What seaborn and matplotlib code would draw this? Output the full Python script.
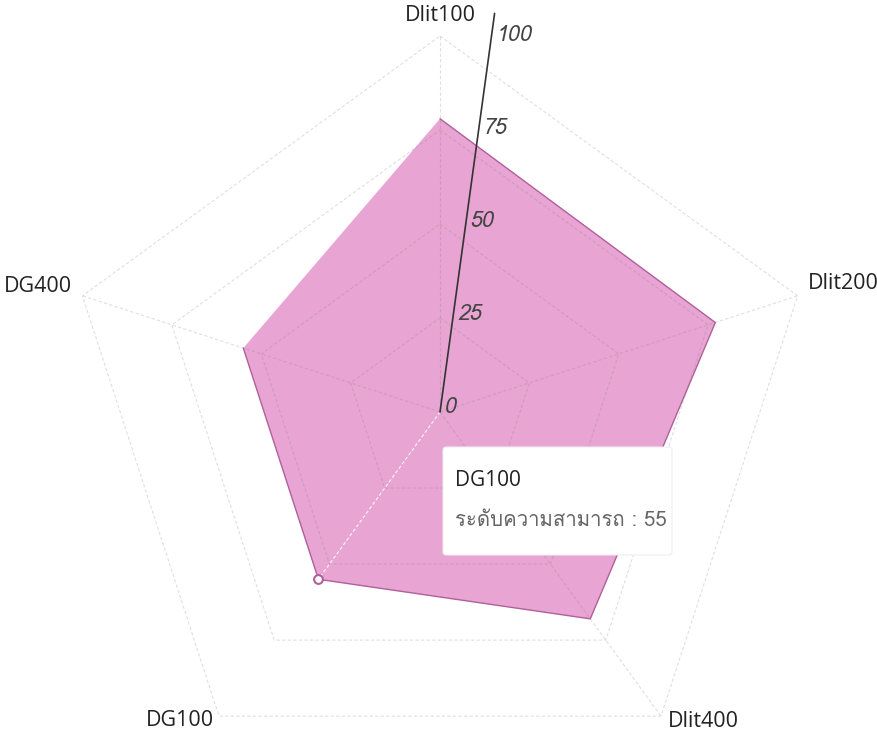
import numpy as np
import pandas as pd
import seaborn as sns
import matplotlib.pyplot as plt
from matplotlib import font_manager
from matplotlib.ft2font import FT2Font
from matplotlib.patches import FancyBboxPatch

# radar chart: skill level per test
labels = ['Dlit100', 'Dlit200', 'Dlit400', 'DG100', 'DG400']
scores = [78, 77, 68, 55, 55]
ticks = [0, 25, 50, 75, 100]
hover_idx = 3
tip_title = 'DG100'
tip_text = 'ระดับความสามารถ : 55'

sns.set_theme(style='white')

# find something that can draw thai
thai_font = None
for f in font_manager.fontManager.ttflist:
    try:
        if FT2Font(f.fname).get_char_index(0x0E23):
            thai_font = f.name
            break
    except Exception:
        pass
base = ['Open Sans', 'DejaVu Sans']
plt.rcParams['font.family'] = ([thai_font] if thai_font else []) + base

df = pd.DataFrame({'label': labels, 'score': scores})
n = len(df)
df['theta'] = np.arange(n) * 2 * np.pi / n
closed = pd.concat([df, df.iloc[:1]], ignore_index=True)

fig = plt.figure(figsize=(8.78, 7.31), dpi=100)
cx, cy, R = 440 / 878, 1 - 412 / 731, 376
ax = fig.add_axes([cx - R / 878, cy - R / 731, 2 * R / 878, 2 * R / 731],
                  projection='polar')
ax.set_theta_zero_location('N')
ax.set_theta_direction(-1)
ax.set_ylim(0, 100)
ax.axis('off')

# data polygon
ax.fill(closed['theta'], closed['score'], color='#e69ccf', alpha=0.92, zorder=1, lw=0)
sns.lineplot(x=closed['theta'], y=closed['score'], sort=False, ax=ax,
             color='#b0609a', lw=1.0, zorder=2)

# pentagon grid + spokes
th = closed['theta']
for lv in ticks[1:]:
    ax.plot(th, [lv] * len(th), color='#808080', alpha=0.25, lw=0.8,
            ls=(0, (3, 2)), zorder=3)
for i, t in enumerate(df['theta']):
    c, a = ('white', 0.9) if i == hover_idx else ('#808080', 0.25)
    ax.plot([t, t], [0, 100], color=c, alpha=a, lw=0.8, ls=(0, (3, 2)), zorder=3)

# tilted radial scale
tilt = np.deg2rad(7.8)
ax.plot([tilt, tilt], [0, 107], color='#333333', lw=1.2, zorder=4, clip_on=False)
for v in ticks:
    ax.annotate(str(v), (tilt, v), xytext=(3, 3), textcoords='offset points',
                ha='left', va='center', fontsize=15.5, style='italic',
                color='#444444', zorder=5, annotation_clip=False)

# axis labels, offsets in pixels from the outer vertex
place = [('center', 'bottom', 0, 10), ('left', 'center', 10, 12),
         ('left', 'center', 7, -5), ('right', 'center', -5, -4),
         ('right', 'center', -10, 9)]
for (ha, va, dx, dy), t, lab in zip(place, df['theta'], df['label']):
    ax.annotate(lab, (t, 100), xytext=(dx, dy), textcoords='offset pixels',
                ha=ha, va=va, fontsize=15.5, color='#222222', family=base,
                annotation_clip=False)

# hover marker
sns.scatterplot(x=[df['theta'][hover_idx]], y=[df['score'][hover_idx]], ax=ax,
                s=40, color='white', edgecolor='#b0609a', linewidth=1.5, zorder=6)

# tooltip
x0, y0, x1, y1 = 443 / 878, 1 - 555 / 731, 672 / 878, 1 - 447 / 731
fig.patches.append(FancyBboxPatch((x0, y0), x1 - x0, y1 - y0,
                                  boxstyle='round,pad=0,rounding_size=0.004',
                                  transform=fig.transFigure, facecolor='white',
                                  edgecolor='#eeeeee', lw=0.8, zorder=10))
fig.text(455 / 878, 1 - 481 / 731, tip_title, fontsize=15, color='#222222',
         va='center', ha='left', zorder=11, family=base)
fig.text(455 / 878, 1 - 520 / 731, tip_text, fontsize=14.7, color='#666666',
         va='center', ha='left', zorder=11)

fig.savefig('out.png', dpi=100)
